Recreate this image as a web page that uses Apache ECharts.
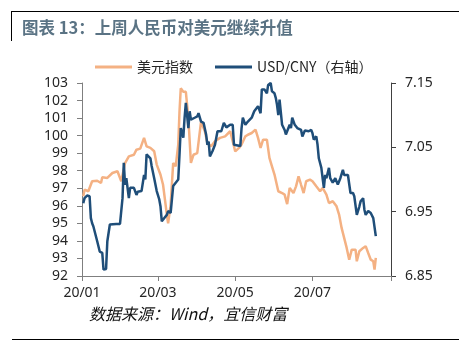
<!DOCTYPE html>
<html>
<head>
<meta charset="utf-8">
<script src="https://cdn.jsdelivr.net/npm/echarts@6/dist/echarts.min.js"></script>
<style>html,body{margin:0;padding:0;background:#fff}#c{width:459px;height:352px}</style>
</head>
<body>
<div id="c"></div>
<script>
const titleText = '图表 13：上周人民币对美元继续升值';
const sourceText = '数据来源：Wind，宜信财富';
const seriesNames = ['美元指数', 'USD/CNY（右轴）'];
const xTickDates = ['2020-01-01', '2020-03-01', '2020-05-01', '2020-07-01', '2020-09-01'];
const xLabelDates = ['2020-01-01', '2020-03-01', '2020-05-01', '2020-07-01'];
const rightTicks = [6.85, 6.95, 7.05, 7.15];

const dxyDates = ['2020-01-02','2020-01-03','2020-01-06','2020-01-07','2020-01-09','2020-01-13','2020-01-16','2020-01-17','2020-01-21','2020-01-22','2020-01-25','2020-01-29','2020-01-30','2020-02-01','2020-02-04','2020-02-07','2020-02-11','2020-02-13','2020-02-16','2020-02-19','2020-02-21','2020-02-24','2020-02-27','2020-02-29','2020-03-03','2020-03-05','2020-03-07','2020-03-08','2020-03-09','2020-03-11','2020-03-13','2020-03-15','2020-03-17','2020-03-18','2020-03-19','2020-03-21','2020-03-23','2020-03-25','2020-03-27','2020-03-29','2020-04-01','2020-04-04','2020-04-07','2020-04-09','2020-04-12','2020-04-15','2020-04-19','2020-04-23','2020-04-27','2020-04-29','2020-05-01','2020-05-04','2020-05-06','2020-05-09','2020-05-11','2020-05-14','2020-05-17','2020-05-19','2020-05-21','2020-05-23','2020-05-26','2020-05-28','2020-05-30','2020-06-01','2020-06-04','2020-06-07','2020-06-09','2020-06-11','2020-06-13','2020-06-16','2020-06-18','2020-06-20','2020-06-22','2020-06-24','2020-06-26','2020-06-29','2020-07-01','2020-07-04','2020-07-07','2020-07-09','2020-07-12','2020-07-14','2020-07-17','2020-07-20','2020-07-22','2020-07-24','2020-07-26','2020-07-28','2020-07-30','2020-08-01','2020-08-04','2020-08-05','2020-08-07','2020-08-10','2020-08-12','2020-08-14','2020-08-16','2020-08-18','2020-08-19','2020-08-20'];
const dxyValues = [96.54,96.92,96.83,96.73,97.40,97.43,97.30,97.63,97.59,97.50,97.87,97.97,98.03,97.40,98.44,98.82,98.91,99.20,99.26,99.87,99.39,99.30,99.11,98.35,97.77,97.20,96.07,95.50,95.00,96.07,98.44,98.25,99.49,101.39,102.70,102.50,102.50,101.00,98.44,98.91,99.00,100.80,100.25,99.58,99.39,99.68,99.87,99.96,100.25,99.68,99.10,99.30,99.49,99.96,100.05,100.15,100.34,99.87,99.30,99.77,99.77,98.73,98.25,97.78,96.83,96.73,96.64,96.10,97.02,96.73,97.11,97.68,97.20,96.73,97.40,97.49,97.40,97.11,96.83,97.02,96.64,96.16,96.26,95.97,95.50,94.74,94.17,93.60,92.93,93.50,93.50,92.84,93.41,93.60,93.70,93.31,92.93,92.84,92.36,93.03];

const cnyDates = ['2020-01-02','2020-01-03','2020-01-05','2020-01-07','2020-01-08','2020-01-09','2020-01-10','2020-01-13','2020-01-15','2020-01-17','2020-01-18','2020-01-20','2020-01-21','2020-01-22','2020-01-23','2020-01-28','2020-01-31','2020-02-02','2020-02-03','2020-02-04','2020-02-05','2020-02-07','2020-02-08','2020-02-11','2020-02-13','2020-02-14','2020-02-17','2020-02-19','2020-02-20','2020-02-21','2020-02-24','2020-02-25','2020-02-27','2020-02-29','2020-03-02','2020-03-03','2020-03-04','2020-03-06','2020-03-08','2020-03-09','2020-03-11','2020-03-13','2020-03-15','2020-03-17','2020-03-18','2020-03-19','2020-03-21','2020-03-22','2020-03-23','2020-03-25','2020-03-26','2020-03-27','2020-03-30','2020-04-01','2020-04-02','2020-04-04','2020-04-06','2020-04-08','2020-04-09','2020-04-10','2020-04-11','2020-04-13','2020-04-15','2020-04-17','2020-04-20','2020-04-22','2020-04-24','2020-04-27','2020-04-29','2020-04-30','2020-05-05','2020-05-06','2020-05-07','2020-05-09','2020-05-11','2020-05-14','2020-05-16','2020-05-19','2020-05-21','2020-05-22','2020-05-24','2020-05-26','2020-05-27','2020-05-29','2020-05-30','2020-06-01','2020-06-02','2020-06-03','2020-06-04','2020-06-05','2020-06-07','2020-06-09','2020-06-10','2020-06-11','2020-06-13','2020-06-14','2020-06-15','2020-06-17','2020-06-19','2020-06-22','2020-06-23','2020-06-25','2020-06-28','2020-06-30','2020-07-01','2020-07-02','2020-07-04','2020-07-05','2020-07-06','2020-07-08','2020-07-09','2020-07-10','2020-07-11','2020-07-12','2020-07-13','2020-07-14','2020-07-15','2020-07-17','2020-07-19','2020-07-21','2020-07-23','2020-07-25','2020-07-26','2020-07-27','2020-07-29','2020-07-30','2020-07-31','2020-08-02','2020-08-03','2020-08-04','2020-08-05','2020-08-07','2020-08-08','2020-08-10','2020-08-11','2020-08-12','2020-08-14','2020-08-16','2020-08-18','2020-08-20'];
const cnyValues = [6.963,6.971,6.975,6.974,6.940,6.932,6.927,6.904,6.888,6.886,6.860,6.861,6.904,6.901,6.930,6.931,6.931,6.971,7.026,6.992,7.002,6.971,6.987,6.987,6.976,6.981,6.982,7.007,7.000,7.039,7.033,7.021,7.002,6.982,6.969,6.958,6.935,6.940,6.945,6.951,6.948,6.990,6.995,7.000,7.039,7.080,7.065,7.096,7.119,7.080,7.106,7.093,7.096,7.098,7.103,7.090,7.088,7.070,7.054,7.059,7.036,7.044,7.054,7.075,7.075,7.088,7.081,7.085,7.085,7.054,7.052,7.080,7.096,7.085,7.090,7.096,7.106,7.114,7.103,7.140,7.140,7.134,7.147,7.150,7.137,7.134,7.127,7.116,7.100,7.124,7.085,7.077,7.070,7.072,7.085,7.080,7.096,7.085,7.080,7.077,7.067,7.076,7.075,7.077,7.072,7.062,7.067,7.054,7.033,7.018,7.002,6.987,7.007,7.002,7.005,7.018,7.002,6.995,7.002,6.992,7.002,7.015,7.007,7.005,7.007,7.005,6.979,6.979,6.974,6.971,6.945,6.958,6.966,6.971,6.953,6.945,6.951,6.948,6.940,6.912];

const ts = s => new Date(s + 'T00:00:00').getTime();
const chart = echarts.init(document.getElementById('c'), null, {renderer: 'canvas'});
const axisFont = {fontFamily: 'Noto Sans', fontSize: 14, color: '#262626'};

chart.setOption({
  animation: false,
  backgroundColor: '#fff',
  title: [{
    text: titleText, left: 22, top: 19, padding: 0,
    textStyle: {fontFamily: 'Noto Sans CJK SC', fontSize: 16.5, fontWeight: 'bold', color: '#5A7384'}
  }, {
    text: sourceText, left: 89, top: 306, padding: 0,
    textStyle: {fontFamily: 'Noto Sans CJK SC', fontSize: 16, fontStyle: 'italic', fontWeight: 'normal', color: '#111'}
  }],
  graphic: [
    {type: 'line', shape: {x1: 11, y1: 11.5, x2: 459, y2: 11.5}, style: {stroke: '#000', lineWidth: 1}},
    {type: 'line', shape: {x1: 11.5, y1: 11, x2: 11.5, y2: 41}, style: {stroke: '#000', lineWidth: 1}},
    {type: 'line', shape: {x1: 12, y1: 339.5, x2: 459, y2: 339.5}, style: {stroke: '#000', lineWidth: 1}}
  ],
  legend: {
    left: 95, top: 59, padding: 0, itemWidth: 37, itemHeight: 3, itemGap: 22,
    icon: 'rect',
    textStyle: {fontFamily: 'Noto Sans CJK SC', fontSize: 14, color: '#262626', lineHeight: 16},
    data: seriesNames
  },
  grid: {left: 82, right: 68, top: 83, bottom: 76, containLabel: false},
  xAxis: {
    type: 'value', min: ts(xTickDates[0]), max: ts(xTickDates[xTickDates.length - 1]),
    axisLine: {lineStyle: {color: '#7f7f7f', width: 1}},
    axisTick: {show: true, length: 5, lineStyle: {color: '#7f7f7f'}, customValues: xTickDates.map(ts)},
    axisLabel: {
      ...axisFont, margin: 10, customValues: xLabelDates.map(ts),
      formatter: v => { const d = new Date(v); return String(d.getFullYear()).slice(2) + '/' + String(d.getMonth() + 1).padStart(2, '0'); }
    },
    splitLine: {show: false}
  },
  yAxis: [{
    type: 'value', min: 92, max: 103, interval: 1,
    axisLine: {show: true, lineStyle: {color: '#7f7f7f'}},
    axisTick: {show: true, length: 5, lineStyle: {color: '#7f7f7f'}},
    axisLabel: {...axisFont, margin: 14},
    splitLine: {show: false}
  }, {
    type: 'value', min: 6.85, max: 7.15, position: 'right',
    axisLine: {show: true, lineStyle: {color: '#404040'}},
    axisTick: {show: true, length: 5, lineStyle: {color: '#404040'}, customValues: rightTicks},
    axisLabel: {...axisFont, margin: 14, customValues: rightTicks, formatter: v => v.toFixed(2)},
    splitLine: {show: false}
  }],
  series: [{
    name: seriesNames[0], type: 'line', yAxisIndex: 0, symbol: 'none', smooth: false,
    lineStyle: {color: '#F4B183', width: 2.5}, itemStyle: {color: '#F4B183'},
    data: dxyDates.map((d, i) => [ts(d), dxyValues[i]])
  }, {
    name: seriesNames[1], type: 'line', yAxisIndex: 1, symbol: 'none', smooth: false,
    lineStyle: {color: '#1F4E79', width: 2.5}, itemStyle: {color: '#1F4E79'},
    data: cnyDates.map((d, i) => [ts(d), cnyValues[i]])
  }]
});
</script>
</body>
</html>
